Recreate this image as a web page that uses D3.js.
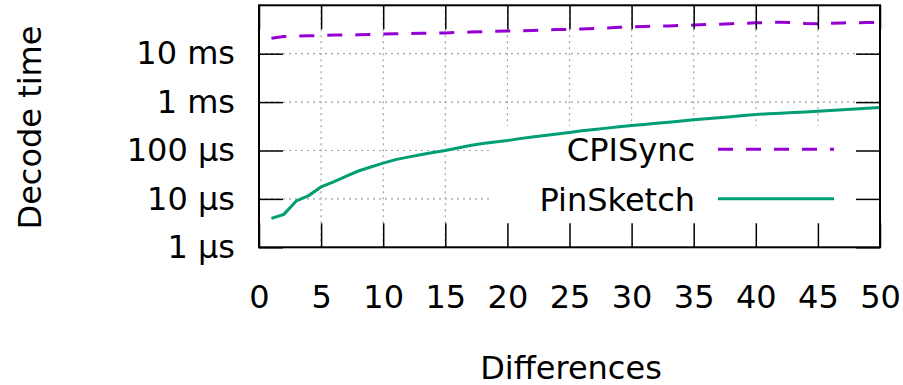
<!DOCTYPE html>
<html>
<head>
<meta charset="utf-8">
<script src="https://cdn.jsdelivr.net/npm/d3@7"></script>
<style>
  body { margin: 0; background: #fff; }
  svg text { font-family: "DejaVu Sans", sans-serif; font-size: 32px; fill: #000; }
</style>
</head>
<body>
<svg id="chart" width="903" height="385"></svg>
<script>
// number of differences (x)
const differences = [1, 2, 3, 4, 5, 6, 7, 8, 9, 10, 11, 12, 13, 14, 15, 16, 17, 18, 19, 20,
  21, 22, 23, 24, 25, 26, 27, 28, 29, 30, 31, 32, 33, 34, 35, 36, 37, 38, 39, 40,
  41, 42, 43, 44, 45, 46, 47, 48, 49, 50];

// decode time in milliseconds
const cpisyncMs = [20.9, 22.6, 23.0, 23.4, 23.8, 24.2, 24.3, 24.5, 25.0, 25.5,
  25.9, 26.2, 26.5, 26.7, 26.9, 27.4, 28.0, 28.5, 29.0, 29.4,
  29.8, 30.1, 30.8, 31.5, 31.9, 32.4, 33.1, 34.0, 35.0, 35.8,
  36.5, 37.0, 37.5, 38.3, 39.1, 39.9, 40.7, 41.6, 42.5, 43.4,
  44.0, 44.7, 43.6, 42.2, 41.8, 42.6, 43.3, 43.6, 43.9, 44.0];

// decode time in microseconds
const pinsketchUs = [3.95, 4.8, 9.1, 11.7, 17.7, 22.4, 29.3, 37.7, 45.5, 55,
  64.7, 73, 82, 91, 100, 113, 127, 139, 150, 161,
  176, 190, 205, 220, 236, 256, 272, 290, 308, 328,
  346, 366, 385, 407, 430, 452, 476, 500, 527, 553,
  572, 590, 610, 628, 647, 670, 695, 720, 745, 771];

const xTicks = [0, 5, 10, 15, 20, 25, 30, 35, 40, 45, 50];
const yTicks = [1e-6, 1e-5, 1e-4, 1e-3, 1e-2];
const yTickLabels = ["1 µs", "10 µs", "100 µs", "1 ms", "10 ms"];

const seriesNames = ["CPISync", "PinSketch"];
const seriesColors = ["#9400d3", "#009e73"];

const m = { left: 259, right: 880, top: 5.3, bottom: 247.3 };
const tickLen = 24;

const svg = d3.select("#chart");

const x = d3.scaleLinear().domain([0, 50]).range([m.left, m.right]);
const y = d3.scaleLog().domain([1e-6, 1e-1]).range([m.bottom, m.top]);

const series = [
  differences.map((d, i) => ({ x: d, y: cpisyncMs[i] / 1e3 })),
  differences.map((d, i) => ({ x: d, y: pinsketchUs[i] / 1e6 }))
];

// grid
const grid = svg.append("g")
  .attr("stroke", "#a0a0a0")
  .attr("stroke-width", 1.2)
  .attr("stroke-dasharray", "2,4");
grid.selectAll(".gx").data(xTicks).enter().append("line")
  .attr("x1", d => x(d)).attr("x2", d => x(d))
  .attr("y1", m.top).attr("y2", m.bottom);
grid.selectAll(".gy").data(yTicks).enter().append("line")
  .attr("x1", m.left).attr("x2", m.right)
  .attr("y1", d => y(d)).attr("y2", d => y(d));

// opaque key box
svg.append("rect")
  .attr("x", 490).attr("y", 126)
  .attr("width", m.right - 490).attr("height", m.bottom - 126)
  .attr("fill", "#fff");

// data lines
const line = d3.line().x(d => x(d.x)).y(d => y(d.y));
svg.selectAll(".series").data(series).enter().append("path")
  .attr("d", line)
  .attr("fill", "none")
  .attr("stroke", (d, i) => seriesColors[i])
  .attr("stroke-width", 3)
  .attr("stroke-dasharray", (d, i) => i === 0 ? "15,13" : null);

// axes with ticks pointing in, mirrored on all sides
svg.append("g")
  .attr("transform", `translate(0,${m.bottom})`)
  .call(d3.axisBottom(x).tickValues(xTicks).tickSize(-tickLen).tickPadding(38))
  .call(g => g.select(".domain").remove());
svg.append("g")
  .attr("transform", `translate(0,${m.top})`)
  .call(d3.axisTop(x).tickValues(xTicks).tickSize(-tickLen).tickFormat(""))
  .call(g => g.select(".domain").remove());
svg.append("g")
  .attr("transform", `translate(${m.left},0)`)
  .call(d3.axisLeft(y).tickValues(yTicks).tickSize(-tickLen).tickPadding(24)
    .tickFormat((d, i) => yTickLabels[i]))
  .call(g => g.select(".domain").remove());
svg.append("g")
  .attr("transform", `translate(${m.right},0)`)
  .call(d3.axisRight(y).tickValues(yTicks).tickSize(-tickLen).tickFormat(""))
  .call(g => g.select(".domain").remove());

svg.selectAll(".tick line").attr("stroke", "#000").attr("stroke-width", 1.5);
svg.selectAll(".tick text")
  .attr("font-family", "DejaVu Sans, sans-serif")
  .attr("font-size", 32)
  .attr("fill", "#000");

// border
svg.append("rect")
  .attr("x", m.left).attr("y", m.top)
  .attr("width", m.right - m.left).attr("height", m.bottom - m.top)
  .attr("fill", "none").attr("stroke", "#000").attr("stroke-width", 2);

// axis titles
svg.append("text")
  .attr("x", 571).attr("y", 378.5)
  .attr("text-anchor", "middle")
  .text("Differences");
svg.append("text")
  .attr("transform", "translate(41,127.5) rotate(-90)")
  .attr("text-anchor", "middle")
  .text("Decode time");

// legend
const legendRows = [149.3, 198.7];
const key = svg.append("g");
seriesNames.forEach((name, i) => {
  key.append("text")
    .attr("x", 695).attr("y", legendRows[i]).attr("dy", "0.37em")
    .attr("text-anchor", "end")
    .text(name);
  key.append("line")
    .attr("x1", 718).attr("x2", 834)
    .attr("y1", legendRows[i]).attr("y2", legendRows[i])
    .attr("stroke", seriesColors[i])
    .attr("stroke-width", 3)
    .attr("stroke-dasharray", i === 0 ? "15,13" : null);
});
</script>
</body>
</html>
